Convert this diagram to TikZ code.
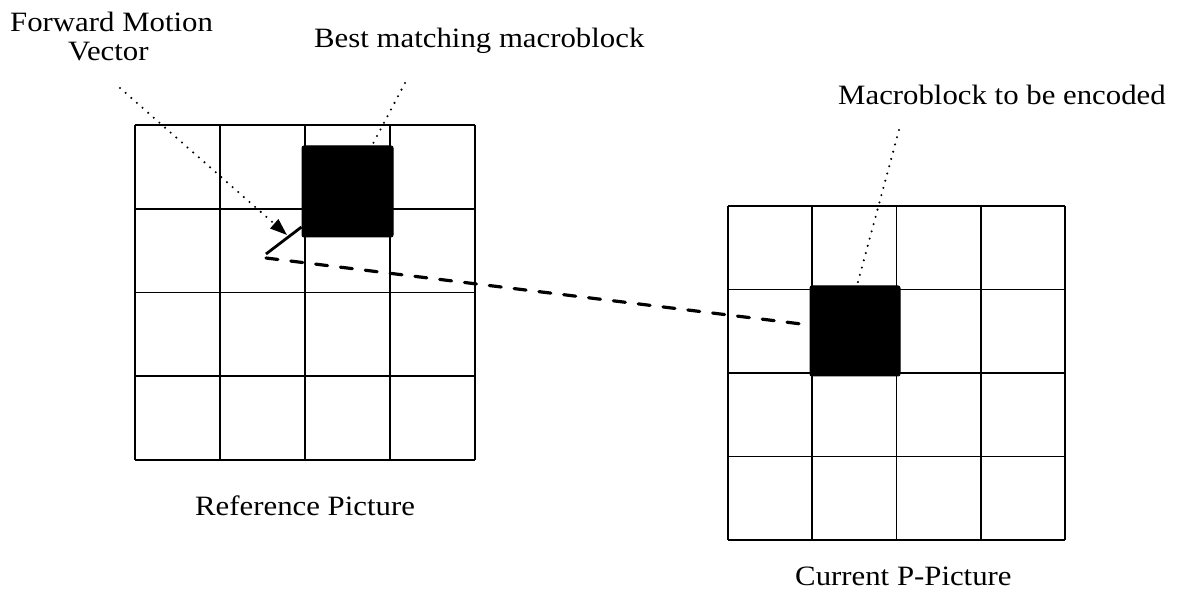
\documentclass[tikz,border=0pt]{standalone}
\usepackage{fontspec}
\setmainfont{Liberation Serif}
\usetikzlibrary{arrows.meta}
\begin{document}
\begin{tikzpicture}[x=1pt,y=-1pt,
  gridline/.style={line width=1.9pt},
  block/.style={fill=black, draw=black, line width=1pt, rounded corners=2pt, inner sep=0pt},
  pointer/.style={line width=2.3pt, dash pattern=on 0pt off 7.5pt, line cap=round},
  mvline/.style={line width=2.8pt},
  dashline/.style={line width=3.2pt, dash pattern=on 12pt off 13pt, line cap=round},
  lbl/.style={inner sep=0pt, anchor=base west, font=\fontsize{28}{30}\selectfont}
]
\useasboundingbox (0,0) rectangle (1186,593);
% reference picture grid
\foreach \i in {0,...,4} {
  \draw[gridline] (135+85*\i,125) -- (135+85*\i,460);
  \draw[gridline] (135,125+83.75*\i) -- (475,125+83.75*\i);
}
% current picture grid
\foreach \i in {0,...,4} {
  \draw[gridline] (728+84.25*\i,206) -- (728+84.25*\i,540);
  \draw[gridline] (728,206+83.5*\i) -- (1065,206+83.5*\i);
}
% macroblocks
\node[block, minimum width=91pt, minimum height=91pt] (best) at (347.5,191.5) {};
\node[block, minimum width=90pt, minimum height=90pt] (cur) at (855,331) {};
% labels
\node[lbl] (fmv1) at (10,32) {\scalebox{1.1}[1]{Forward Motion}};
\node[lbl] (fmv2) at (68,61) {\scalebox{1.1}[1]{Vector}};
\node[lbl] (bestlbl) at (314,48) {\scalebox{1.1}[1]{Best matching macroblock}};
\node[lbl] (curlbl) at (838,105) {\scalebox{1.1}[1]{Macroblock to be encoded}};
\node[lbl] (reflbl) at (195,515) {\scalebox{1.1}[1]{Reference Picture}};
\node[lbl] (plbl) at (795,585) {\scalebox{1.1}[1]{Current P-Picture}};
% motion vector
\coordinate (mvstart) at (266,254);
\coordinate (fmvstart) at (120,88);
\coordinate (fmvtip) at (287,235);
\coordinate (beststart) at (405,83);
\coordinate (curstart) at (899,130);
\draw[mvline] (mvstart) -- ([yshift=-35.5pt]best.west);
\draw[pointer, -{Triangle[length=17pt,width=12pt]}] (fmvstart) -- (fmvtip);
\draw[pointer] (beststart) -- ([xshift=24.5pt]best.north);
\draw[pointer] (curstart) -- ([xshift=2pt]cur.north);
\draw[dashline] ([yshift=-4pt]mvstart) -- ([yshift=6pt]cur.west);
\end{tikzpicture}
\end{document}
